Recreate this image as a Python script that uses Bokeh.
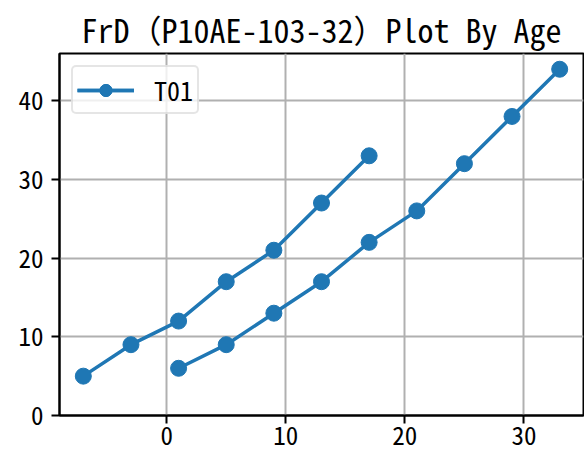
import math
from bokeh.plotting import figure
from bokeh.models import FixedTicker, Range1d
from bokeh.embed import file_html
from bokeh.resources import INLINE

title_text = "FrD（P10AE-103-32）Plot By Age"
series_name = "T01"

# first run of the series
age_a = [-7, -3, 1, 5, 9, 13, 17]
val_a = [5, 9, 12, 17, 21, 27, 33]
# second run of the series
age_b = [1, 5, 9, 13, 17, 21, 25, 29, 33]
val_b = [6, 9, 13, 17, 22, 26, 32, 38, 44]

x_ticks = [0, 10, 20, 30]
y_ticks = [0, 10, 20, 30, 40]

FONT = "Noto Sans Mono CJK SC, Noto Sans CJK SC, sans-serif"
COLOR = "#1f77b4"

p = figure(
    width=584, height=454,
    min_border_left=59, min_border_right=1, min_border_top=53, min_border_bottom=39,
    x_range=Range1d(-9, 35), y_range=Range1d(0, 46),
    output_backend="svg", toolbar_location=None,
    title=title_text,
)

for xs, ys in ((age_a, val_a), (age_b, val_b)):
    p.line(xs, ys, line_color=COLOR, line_width=3.5, legend_label=series_name)
    p.scatter(xs, ys, size=16, fill_color=COLOR, line_color=COLOR, legend_label=series_name)

p.title.align = "center"
p.title.text_font = FONT
p.title.text_font_size = "32px"
p.title.text_font_style = "normal"
p.title.text_color = "black"
p.title.standoff = 4

p.xaxis.ticker = FixedTicker(ticks=x_ticks)
p.yaxis.ticker = FixedTicker(ticks=y_ticks)
for ax in (p.xaxis, p.yaxis):
    ax.axis_line_color = "black"
    ax.axis_line_width = 2
    ax.major_tick_line_color = "black"
    ax.major_tick_line_width = 2
    ax.major_tick_out = 8
    ax.major_tick_in = 0
    ax.minor_tick_line_color = None
    ax.major_label_text_font = FONT
    ax.major_label_text_font_size = "25px"
    ax.major_label_text_color = "black"
p.xaxis.major_label_standoff = 2
p.yaxis.major_label_standoff = 8

p.outline_line_color = "black"
p.outline_line_width = 2
p.outline_line_alpha = 1

for g in (p.xgrid, p.ygrid):
    g.grid_line_color = "#b0b0b0"
    g.grid_line_width = 2

p.legend.location = "top_left"
p.legend.margin = 12
p.legend.padding = 4
p.legend.glyph_width = 57
p.legend.glyph_height = 30
p.legend.label_height = 20
p.legend.label_standoff = 20
p.legend.label_text_font = FONT
p.legend.label_text_font_size = "26px"
p.legend.label_text_line_height = 1.0
p.legend.label_text_color = "black"
p.legend.border_line_color = "#cccccc"
p.legend.border_line_width = 2
p.legend.border_radius = 5
p.legend.background_fill_alpha = 0.8

open("out.html", "w").write(file_html(p, INLINE))
